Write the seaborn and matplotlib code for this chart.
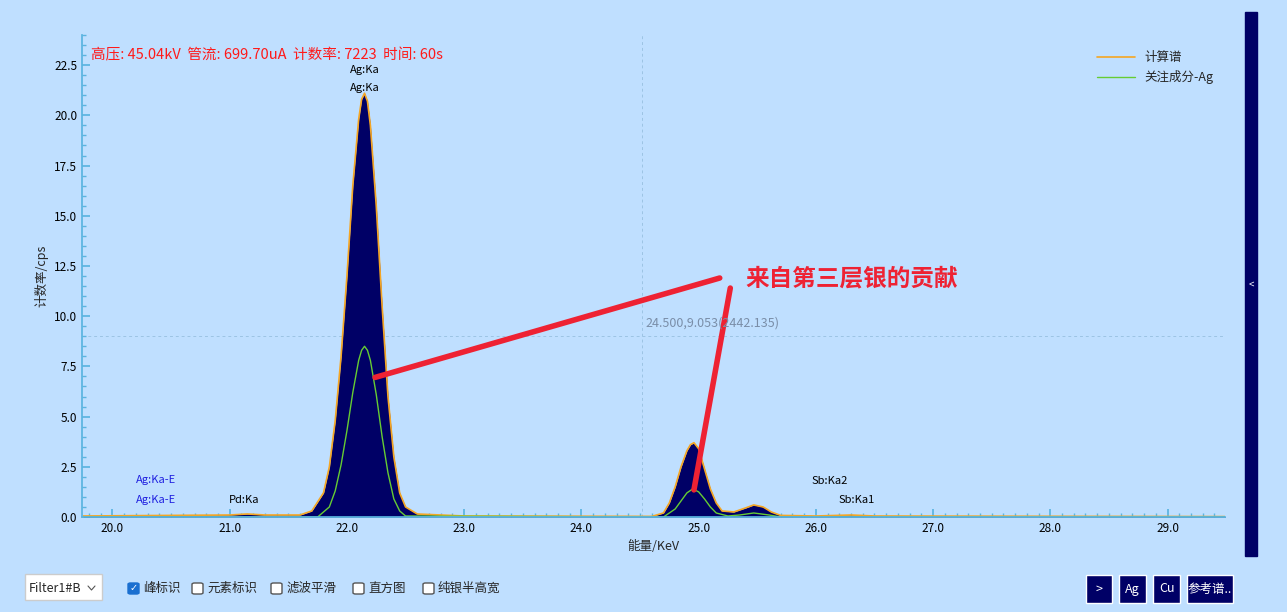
import numpy as np
import pandas as pd
import matplotlib
matplotlib.use("Agg")
import matplotlib.pyplot as plt
from matplotlib.patches import Rectangle, FancyBboxPatch
from matplotlib.lines import Line2D
from matplotlib.ticker import MultipleLocator
import seaborn as sns

# ========== DATA ========== #
ENERGY = [19.75, 20.5, 21.0, 21.15, 21.3, 21.6, 21.7, 21.8, 21.85, 21.9, 21.95, 22.0,
          22.05, 22.1, 22.125, 22.15, 22.175, 22.2, 22.25, 22.3, 22.35, 22.4, 22.45,
          22.5, 22.6, 23.0, 24.6, 24.7, 24.75, 24.8, 24.85, 24.9, 24.93, 24.96, 25.0,
          25.05, 25.1, 25.15, 25.2, 25.3, 25.4, 25.47, 25.55, 25.62, 25.7, 26.0, 26.3,
          26.5, 29.5]
TOTAL = [0.05, 0.08, 0.1, 0.15, 0.1, 0.1, 0.3, 1.2, 2.5, 4.8, 8.0, 12.0,
         16.5, 19.8, 20.8, 21.1, 20.7, 19.5, 15.5, 10.5, 6.0, 3.0, 1.2,
         0.5, 0.15, 0.05, 0.03, 0.2, 0.7, 1.5, 2.5, 3.3, 3.6, 3.7, 3.4,
         2.4, 1.4, 0.7, 0.3, 0.25, 0.45, 0.6, 0.5, 0.25, 0.08, 0.05, 0.1,
         0.05, 0.02]
AG_ENERGY = [19.75, 21.75, 21.85, 21.9, 21.95, 22.0, 22.05, 22.1, 22.125, 22.15, 22.175,
             22.2, 22.25, 22.3, 22.35, 22.4, 22.45, 22.5, 24.7, 24.8, 24.85, 24.9, 24.95,
             25.0, 25.05, 25.1, 25.15, 25.25, 25.35, 25.47, 25.6, 25.7, 29.5]
AG_COMP = [0.0, 0.0, 0.5, 1.3, 2.6, 4.3, 6.2, 7.8, 8.3, 8.5, 8.3,
           7.8, 6.1, 4.0, 2.2, 0.9, 0.3, 0.05, 0.0, 0.4, 0.8, 1.2, 1.4,
           1.25, 0.9, 0.5, 0.2, 0.05, 0.1, 0.2, 0.1, 0.0, 0.0]

PEAK_LABELS = [("Ag:Ka", 22.15, 22.0, "black"), ("Ag:Ka", 22.15, 21.1, "black"),
               ("Ag:Ka-E", 20.37, 1.6, "#2020e0"), ("Ag:Ka-E", 20.37, 0.6, "#2020e0"),
               ("Pd:Ka", 21.12, 0.6, "black"), ("Sb:Ka2", 26.12, 1.55, "black"),
               ("Sb:Ka1", 26.35, 0.6, "black")]

BG = "#bfdfff"
AXC = "#5ab4e0"

sns.set_theme(style="white")
plt.rcParams["font.family"] = ["Noto Sans CJK SC", "DejaVu Sans"]

fig = plt.figure(figsize=(12.87, 6.12), dpi=100, facecolor=BG)
ax = fig.add_axes([82 / 1287, 1 - 517 / 612, (1225 - 82) / 1287, (517 - 35) / 612])
ax.set_facecolor(BG)

df = pd.DataFrame({"energy": ENERGY, "total": TOTAL})
ag = pd.DataFrame({"energy": AG_ENERGY, "comp": AG_COMP})
ax.axvline(24.52, color="#9cc4e4", lw=0.7, ls=(0, (3, 3)), zorder=0.5)
ax.axhline(9.0, color="#9cc4e4", lw=0.7, ls=(0, (3, 3)), zorder=0.5)
ax.fill_between(df["energy"], df["total"], color="#000066", lw=0, zorder=1)
sns.lineplot(data=df, x="energy", y="total", ax=ax, color="#f5a623", lw=1.2, label="计算谱")
sns.lineplot(data=ag, x="energy", y="comp", ax=ax, color="#66cc33", lw=1.0, label="关注成分-Ag")

ax.set_xlim(19.74, 29.49)
ax.set_ylim(0, 24.0)
ax.xaxis.set_major_locator(MultipleLocator(1))
ax.xaxis.set_minor_locator(MultipleLocator(0.1))
ax.yaxis.set_major_locator(MultipleLocator(2.5))
ax.yaxis.set_minor_locator(MultipleLocator(0.5))
ax.xaxis.set_major_formatter(matplotlib.ticker.FormatStrFormatter("%.1f"))
ax.yaxis.set_major_formatter(matplotlib.ticker.FormatStrFormatter("%.1f"))
ax.tick_params(axis="both", which="both", direction="in", colors=AXC, labelcolor="black",
               labelsize=8.5, bottom=True, left=True)
ax.tick_params(which="major", length=6)
ax.tick_params(which="minor", length=3)
for s in ["top", "right"]:
    ax.spines[s].set_visible(False)
for s in ["left", "bottom"]:
    ax.spines[s].set_color(AXC)
ax.set_xlabel("能量/KeV", fontsize=9)
ax.set_ylabel("计数率/cps", fontsize=9)

ax.text(24.55, 9.5, "24.500,9.053(2442.135)", color="#7a8ea8", fontsize=9)

for txt, x, y, c in PEAK_LABELS:
    ax.text(x, y, txt, color=c, fontsize=8, ha="center", va="bottom")

ax.text(0.008, 0.958, "高压: 45.04kV  管流: 699.70uA  计数率: 7223  时间: 60s",
        transform=ax.transAxes, color="#ff1a1a", fontsize=10.5, va="center")

ax.legend(loc="upper right", frameon=False, fontsize=9, handlelength=3,
          bbox_to_anchor=(1.0, 0.99))

# annotation strokes
ax.plot([22.24, 25.18], [6.95, 11.9], color="#ee2233", lw=4, solid_capstyle="round")
ax.plot([24.96, 25.27], [1.35, 11.4], color="#ee2233", lw=4, solid_capstyle="round")
ax.text(25.4, 11.9, "来自第三层银的贡献", color="#ee2233", fontsize=17,
        fontweight="bold", va="center")

# right side bar
fig.patches.append(Rectangle((1245 / 1287, 1 - 556 / 612), 12 / 1287, 544 / 612,
                             transform=fig.transFigure, color="#000066"))
fig.text(1251 / 1287, 1 - 285 / 612, "<", color="white", fontsize=7, ha="center", va="center")

# bottom controls
fig.patches.append(Rectangle((25 / 1287, 1 - 600 / 612), 77 / 1287, 26 / 612,
                             transform=fig.transFigure, facecolor="white", edgecolor="#cccccc"))
fig.text(29 / 1287, 1 - 588 / 612, "Filter1#B", fontsize=9, va="center")
fig.lines.append(Line2D([88 / 1287, 91.5 / 1287, 95 / 1287],
                        [1 - 586 / 612, 1 - 590 / 612, 1 - 586 / 612],
                        transform=fig.transFigure, color="#555555", lw=0.8))
checks = [("峰标识", 128, True), ("元素标识", 192, False), ("滤波平滑", 271, False),
          ("直方图", 353, False), ("纯银半高宽", 423, False)]
for lbl, px, on in checks:
    fig.patches.append(FancyBboxPatch((px / 1287, 1 - 594 / 612), 11 / 1287, 11 / 612,
                                      boxstyle="round,pad=0,rounding_size=0.002",
                                      transform=fig.transFigure,
                                      facecolor="#1a6fd0" if on else "white",
                                      edgecolor="#1a6fd0" if on else "#555555"))
    if on:
        fig.text((px + 5.5) / 1287, 1 - 588 / 612, "✓", color="white", fontsize=7,
                 ha="center", va="center", family="DejaVu Sans")
    fig.text((px + 15) / 1287, 1 - 588 / 612, lbl, fontsize=9, va="center")
buttons = [(">", 1086, 26), ("Ag", 1119, 27), ("Cu", 1153, 27), ("参考谱..", 1187, 46)]
for lbl, px, w in buttons:
    fig.patches.append(Rectangle((px / 1287, 1 - 603 / 612), w / 1287, 28 / 612,
                                 transform=fig.transFigure, facecolor="#000066",
                                 edgecolor="white", lw=1))
    fig.text((px + w / 2) / 1287, 1 - 589 / 612, lbl, color="white", fontsize=9,
             ha="center", va="center")

fig.savefig("out.png", dpi=100, facecolor=BG)
